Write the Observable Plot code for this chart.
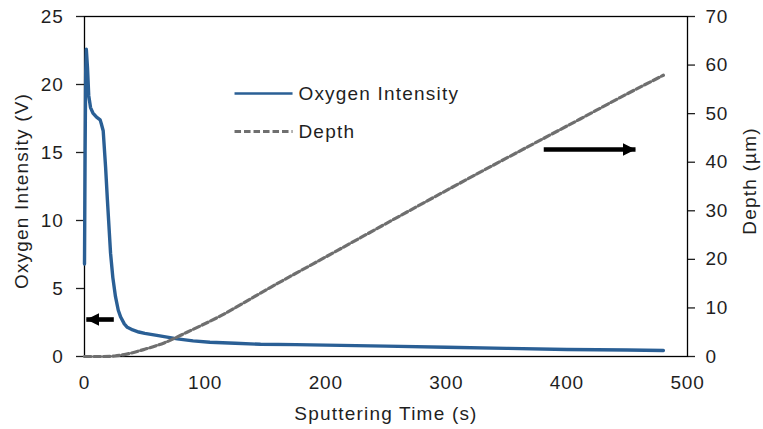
<!DOCTYPE html>
<html><head><meta charset="utf-8">
<script src="https://cdn.jsdelivr.net/npm/d3@7"></script>
<script src="https://cdn.jsdelivr.net/npm/@observablehq/plot@0.6"></script>
<style>
html,body{margin:0;padding:0;background:#fff;}
#chart svg{display:block;}
#chart text{letter-spacing:0.8px;}
#chart .wide text{letter-spacing:1.2px;}
</style></head><body><div id="chart"></div>
<script>
// ---- data ----
const oxyTime  = [0,0.5,1,1.5,2.5,3.5,5,7,10,13,14,15.5,17.5,19,20,21.6,23.5,25.7,28,30,33,35.5,40,45,50,60,77,90,104,125,146,175,200,250,300,350,400,450,480];
const oxyValue = [6.8,15,21,22.6,21.2,19.2,18.3,17.9,17.6,17.4,17.1,16.6,13.9,11.5,10,7.6,5.8,4.4,3.4,2.9,2.4,2.15,1.95,1.8,1.7,1.55,1.3,1.15,1.05,0.97,0.9,0.87,0.84,0.76,0.68,0.6,0.52,0.48,0.44];
const depthTime  = [0,15,25,35,50,66,85,110,154,209.5,259,324,367,411,444,480];
const depthValue = [0,0,0.1,0.5,1.5,2.8,5,8,14.2,21.8,28.6,37.4,43.1,48.9,53.3,57.9];
const xTicks = [0,100,200,300,400,500];
const leftTicks = [0,5,10,15,20,25];
const rightTicks = [0,10,20,30,40,50,60,70];
const legendLabels = ["Oxygen Intensity","Depth"];
const titles = {x:"Sputtering Time (s)", yLeft:"Oxygen Intensity (V)", yRight:"Depth (µm)"};

// ---- styles ----
const BLUE = "#2a5f95", GREY = "#6f6f6f", INK = "#1f1f1f";
const Y_MAX = 25, DEPTH_MAX = 70, k = Y_MAX / DEPTH_MAX;

const oxygen = oxyTime.map((t, i) => ({t, v: oxyValue[i]}));
const depth = depthTime.map((t, i) => ({t, d: depthValue[i] * k}));

// annotation anchors (data units)
const legendRows = [
  {label: legendLabels[0], y: 19.34, x1: 124.4, x2: 172.5, tx: 177.4},
  {label: legendLabels[1], y: 16.54, x1: 124.4, x2: 172.5, tx: 177.4}
];
const arrows = [
  {x1: 24.3, x2: 1.5, y: 2.72},
  {x1: 380.8, x2: 456.9, y: 15.22}
];

function filledArrow(color) {
  const m = d3.create("svg:marker")
    .attr("viewBox", "0 -6.5 13 13")
    .attr("markerWidth", 13).attr("markerHeight", 13)
    .attr("markerUnits", "userSpaceOnUse")
    .attr("orient", "auto")
    .attr("refX", 13).attr("refY", 0)
    .attr("fill", color).attr("stroke", "none");
  m.append("path").attr("d", "M0,-6.5L13,0L0,6.5Z");
  return m.node();
}

const DASH = "6.5,3";
const chart = Plot.plot({
  width: 763, height: 429,
  marginTop: 16, marginBottom: 73, marginLeft: 84, marginRight: 76,
  style: {fontFamily: "'Liberation Sans', Arial, sans-serif", fontSize: "19px", color: INK, background: "#fff"},
  x: {domain: [0, 500]},
  y: {domain: [0, Y_MAX]},
  marks: [
    Plot.axisX(xTicks, {tickSize: 0, tickPadding: 19, label: null, fontSize: 19}),
    Plot.axisY(leftTicks, {anchor: "left", tickSize: 8, tickPadding: 13, label: null, strokeWidth: 1.3, fontSize: 19}),
    Plot.axisY(rightTicks.map(d => d * k), {anchor: "right", tickSize: 7, tickPadding: 11, label: null, strokeWidth: 1.3, fontSize: 19,
      tickFormat: d => String(Math.round(d / k))}),
    Plot.frame({stroke: "#000", strokeWidth: 1.3}),
    Plot.line(oxygen, {x: "t", y: "v", stroke: BLUE, strokeWidth: 3.4, strokeLinejoin: "round"}),
    Plot.line(depth, {x: "t", y: "d", stroke: GREY, strokeWidth: 3.2, strokeDasharray: DASH, curve: "monotone-x"}),
    // legend
    Plot.link([legendRows[0]], {x1: "x1", x2: "x2", y1: "y", y2: "y", stroke: BLUE, strokeWidth: 2.6}),
    Plot.link([legendRows[1]], {x1: "x1", x2: "x2", y1: "y", y2: "y", stroke: GREY, strokeWidth: 3, strokeDasharray: DASH}),
    Plot.text(legendRows, {x: "tx", y: "y", text: "label", textAnchor: "start", fontSize: 19, fill: INK, className: "wide"}),
    // arrows
    Plot.link(arrows, {x1: "x1", x2: "x2", y1: "y", y2: "y", stroke: "#000", strokeWidth: 4.6, markerEnd: filledArrow}),
    // axis titles
    Plot.text([titles.x], {frameAnchor: "bottom", dy: 57.5, textAnchor: "middle", lineAnchor: "middle", fontSize: 19, fill: INK, className: "wide"}),
    Plot.text([titles.yLeft], {frameAnchor: "left", dx: -62.5, dy: 4.5, rotate: -90, textAnchor: "middle", lineAnchor: "middle", fontSize: 19, fill: INK, className: "wide"}),
    Plot.text([titles.yRight], {frameAnchor: "right", dx: 62.5, dy: -5.5, rotate: -90, textAnchor: "middle", lineAnchor: "middle", fontSize: 19, fill: INK, className: "wide"})
  ]
});
document.getElementById("chart").append(chart);
</script></body></html>
